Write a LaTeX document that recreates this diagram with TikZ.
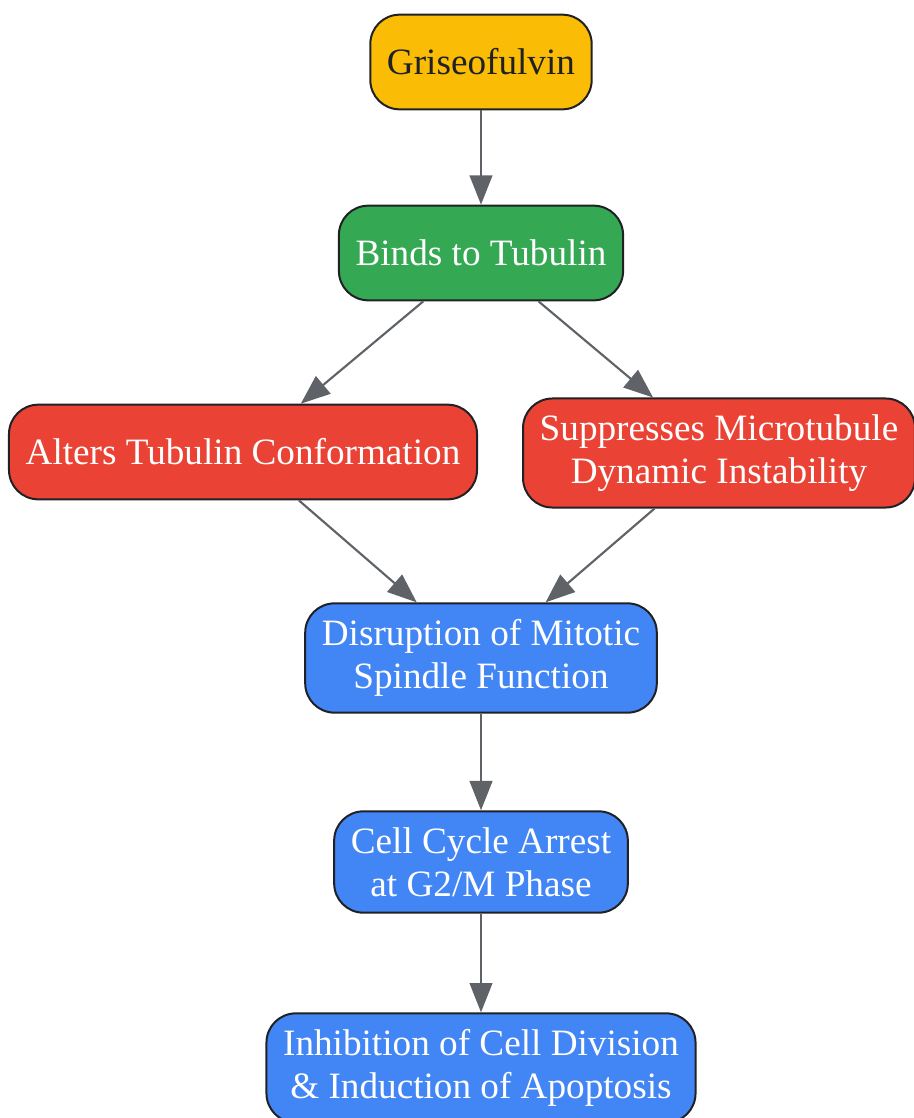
\documentclass[tikz,border=0pt]{standalone}
\usepackage{fontspec}
\setmainfont{Liberation Serif}
\usetikzlibrary{arrows.meta}
\definecolor{gyellow}{HTML}{FBBC05}
\definecolor{ggreen}{HTML}{34A853}
\definecolor{gred}{HTML}{EA4335}
\definecolor{gblue}{HTML}{4285F4}
\definecolor{gdark}{HTML}{202124}
\definecolor{ggray}{HTML}{5F6368}
\begin{document}
\begin{tikzpicture}
[x=0.75pt,y=-0.75pt,align=center,
 box/.style={draw=gdark,line width=1.5pt,rounded corners=22pt,text=white,
   font=\fontsize{27.9}{32.4}\selectfont,inner xsep=12.5pt,inner ysep=12pt,minimum height=71pt},
 arrow/.style={draw=ggray,line width=1.6pt,-{Triangle[length=22pt,width=17pt]}}]
 \useasboundingbox (0,0) rectangle (914,1118);
 \node[box,fill=gyellow,text=gdark] (gris) at (481,62) {Griseofulvin};
 \node[box,fill=ggreen] (binds) at (481,253) {Binds to Tubulin};
 \node[box,fill=gred] (alters) at (243,452) {Alters Tubulin Conformation};
 \node[box,fill=gred] (suppr) at (719,453) {Suppresses Microtubule\\Dynamic Instability};
 \node[box,fill=gblue] (disrupt) at (481,658) {Disruption of Mitotic\\Spindle Function};
 \node[box,fill=gblue] (arrest) at (481,862) {Cell Cycle Arrest\\at G2/M Phase};
 \node[box,fill=gblue] (inhib) at (481,1068) {Inhibition of Cell Division\\\& Induction of Apoptosis};

 \draw (gris) edge[arrow] (binds);
 \draw (binds) edge[arrow] (alters);
 \draw (binds) edge[arrow] (suppr);
 \draw (alters) edge[arrow] (disrupt);
 \draw (suppr) edge[arrow] (disrupt);
 \draw (disrupt) edge[arrow] (arrest);
 \draw (arrest) edge[arrow] (inhib);
\end{tikzpicture}
\end{document}
